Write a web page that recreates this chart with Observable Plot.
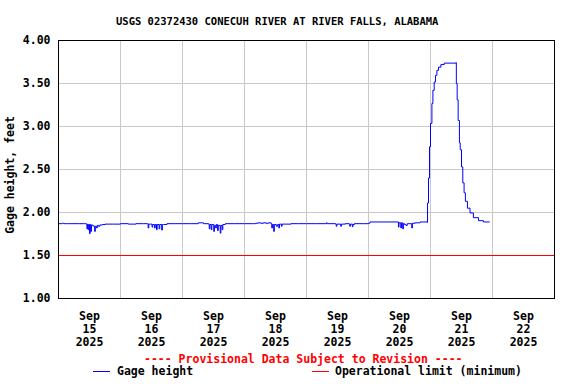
<!DOCTYPE html>
<html><head><meta charset="utf-8">
<script src="https://cdn.jsdelivr.net/npm/d3@7"></script>
<script src="https://cdn.jsdelivr.net/npm/@observablehq/plot@0.6"></script>
<style>
body{margin:0;background:#fff;}
#wrap{position:relative;width:576px;height:384px;font-family:"DejaVu Sans Mono",monospace;font-weight:bold;}
.t{position:absolute;white-space:pre;font-size:11.5px;line-height:1;}
</style></head><body>
<div id="wrap"></div>
<script>
const titleText = "USGS 02372430 CONECUH RIVER AT RIVER FALLS, ALABAMA";
const yLabel = "Gage height, feet";
const provisional = "---- Provisional Data Subject to Revision ----";
const legendNames = ["Gage height", "Operational limit (minimum)"];
const legendColors = ["#0000ff", "#ff0000"];
const startUTC = "2025-09-15T00:00:00Z";
const tickMonth = "Sep";
const tickYear = "2025";
const tickDays = [15, 16, 17, 18, 19, 20, 21, 22];
const yTicks = [1.0, 1.5, 2.0, 2.5, 3.0, 3.5, 4.0];
const operationalLimit = 1.5;

// hours after Sep 15 00:00
const obsHours = [
  0,1,1.5,2,3,4,6,8,10,10.75,11,11.25,11.5,11.75,12,12.25,12.5,12.75,13.25,13.75,14,14.25,14.75,15,15.5,16,17,18,21,24,
  27,30,33,34.45,34.7,34.95,35.7,36.2,36.45,37.2,37.45,37.95,38.2,38.95,39.2,39.95,40.2,40.7,42,45,48,
  51,54,54.2,55.6,56.1,58.1,58.35,58.6,59.1,59.35,60.1,60.35,60.85,61.1,61.6,61.85,62.6,62.85,63.35,63.6,64.1,64.6,68,72,
  75,76.3,77.3,78.3,79.3,80.3,81.3,82.3,82.55,82.8,83.3,83.55,84.3,84.8,85.3,85.55,86.3,86.55,87.3,90,93,96,
  100,103.5,103.7,104,107.3,107.5,107.75,109,109.25,109.5,111,112.5,112.75,113,113.75,114,114.5,118,120,
  120.5,120.6,124,128,131.4,131.6,131.8,132.5,132.75,133.25,133.5,134,134.5,135,136,136.75,137,138,139.8,140,142.6,142.8,
  142.85,143.23,143.61,144.0,144.54,144.93,145.43,145.93,146.47,147.09,148.02,149.3,153.94,
  154.0,154.32,154.7,155.2,155.5,156.0,156.5,157.0,157.5,158.3,159.3,160.6,162.6,164.5,166.8
];
const gageFeet = [
  1.87,1.87,1.875,1.87,1.87,1.87,1.87,1.87,1.87,1.865,1.81,1.865,1.80,1.86,1.755,1.86,1.78,1.855,1.845,1.84,1.78,1.84,1.82,1.85,1.84,1.855,1.86,1.865,1.865,1.87,
  1.865,1.87,1.87,1.87,1.82,1.865,1.865,1.83,1.86,1.82,1.86,1.80,1.86,1.81,1.86,1.795,1.86,1.86,1.87,1.87,1.87,
  1.87,1.875,1.88,1.88,1.87,1.865,1.81,1.86,1.80,1.86,1.78,1.85,1.82,1.86,1.79,1.85,1.76,1.85,1.80,1.86,1.86,1.87,1.87,1.87,
  1.87,1.875,1.88,1.875,1.88,1.875,1.88,1.87,1.82,1.86,1.78,1.86,1.84,1.86,1.82,1.865,1.84,1.865,1.865,1.87,1.87,1.87,
  1.87,1.87,1.88,1.87,1.865,1.84,1.865,1.865,1.84,1.865,1.87,1.865,1.84,1.865,1.835,1.86,1.87,1.87,1.875,
  1.88,1.89,1.89,1.89,1.89,1.83,1.88,1.82,1.88,1.81,1.87,1.86,1.85,1.87,1.87,1.82,1.875,1.88,1.88,1.89,1.89,1.885,
  2.11,2.40,2.765,3.036,3.267,3.42,3.517,3.595,3.653,3.69,3.72,3.737,3.742,
  3.50,3.31,3.07,2.81,2.73,2.53,2.345,2.23,2.13,2.05,1.995,1.94,1.905,1.89,1.89
];

const t0 = new Date(startUTC).getTime();
const hourDate = h => new Date(t0 + h * 3600e3);
const series = obsHours.map((h, i) => ({date: hourDate(h), value: gageFeet[i]}));
const labelTicks = tickDays.map((d, i) => hourDate(i * 24 + 12));
const gridTicks = tickDays.slice(1).map((d, i) => hourDate((i + 1) * 24));
const dayOf = new Map(labelTicks.map((t, i) => [+t, tickDays[i]]));

const chart = Plot.plot({
  width: 576, height: 384,
  marginLeft: 58, marginRight: 22, marginTop: 40, marginBottom: 86,
  style: {fontFamily: "DejaVu Sans Mono, monospace", fontSize: "11.5px", fontWeight: "bold", background: "#fff", color: "#000"},
  x: {type: "utc", domain: [hourDate(0), hourDate(tickDays.length * 24)]},
  y: {domain: [1.0, 4.0]},
  marks: [
    Plot.gridX(gridTicks, {stroke: "#c8c8c8", strokeOpacity: 1}),
    Plot.gridY(yTicks.slice(1, -1), {stroke: "#c8c8c8", strokeOpacity: 1}),
    Plot.ruleY([operationalLimit], {stroke: "#ff0000"}),
    Plot.line(series, {x: "date", y: "value", stroke: "#0000ff", strokeWidth: 1, curve: "step-after"}),
    Plot.frame({stroke: "#000"}),
    Plot.axisY(yTicks, {tickSize: 0, tickPadding: 8, tickFormat: d => d.toFixed(2), label: null, fill: "#000"}),
    Plot.axisX(labelTicks, {tickSize: 0, tickPadding: 12, lineHeight: 1.13, label: null, fill: "#000",
      tickFormat: d => `${tickMonth}\n${dayOf.get(+d)}\n${tickYear}`})
  ]
});
const wrap = document.getElementById("wrap");
wrap.appendChild(chart);
chart.style.position = "absolute"; chart.style.left = "0"; chart.style.top = "0";

function addText(txt, left, top, color, size) {
  const el = document.createElement("div");
  el.className = "t"; el.textContent = txt;
  el.style.left = left + "px"; el.style.top = top + "px"; el.style.color = color;
  if (size) el.style.fontSize = size + "px";
  wrap.appendChild(el);
  return el;
}
// legend swatches drawn in a small overlay svg
const ns = "http://www.w3.org/2000/svg";
const leg = document.createElementNS(ns, "svg");
leg.setAttribute("width", 576); leg.setAttribute("height", 384);
leg.style.position = "absolute"; leg.style.left = "0"; leg.style.top = "0";
[[93, 110], [312, 329]].forEach(([a, b], i) => {
  const l = document.createElementNS(ns, "line");
  l.setAttribute("x1", a); l.setAttribute("x2", b);
  l.setAttribute("y1", 371.5); l.setAttribute("y2", 371.5);
  l.setAttribute("stroke", legendColors[i]); l.setAttribute("stroke-width", 1);
  leg.appendChild(l);
});
wrap.appendChild(leg);
addText(titleText, 116, 15.7, "#000", 10.5);
addText(provisional, 144, 353.5, "#ff0000");
addText(legendNames[0], 117, 366, "#000");
addText(legendNames[1], 335, 366, "#000");
const yl = addText(yLabel, 11, 175, "#000");
yl.style.transform = "translate(-50%, -50%) rotate(-90deg)";
</script>
</body></html>
